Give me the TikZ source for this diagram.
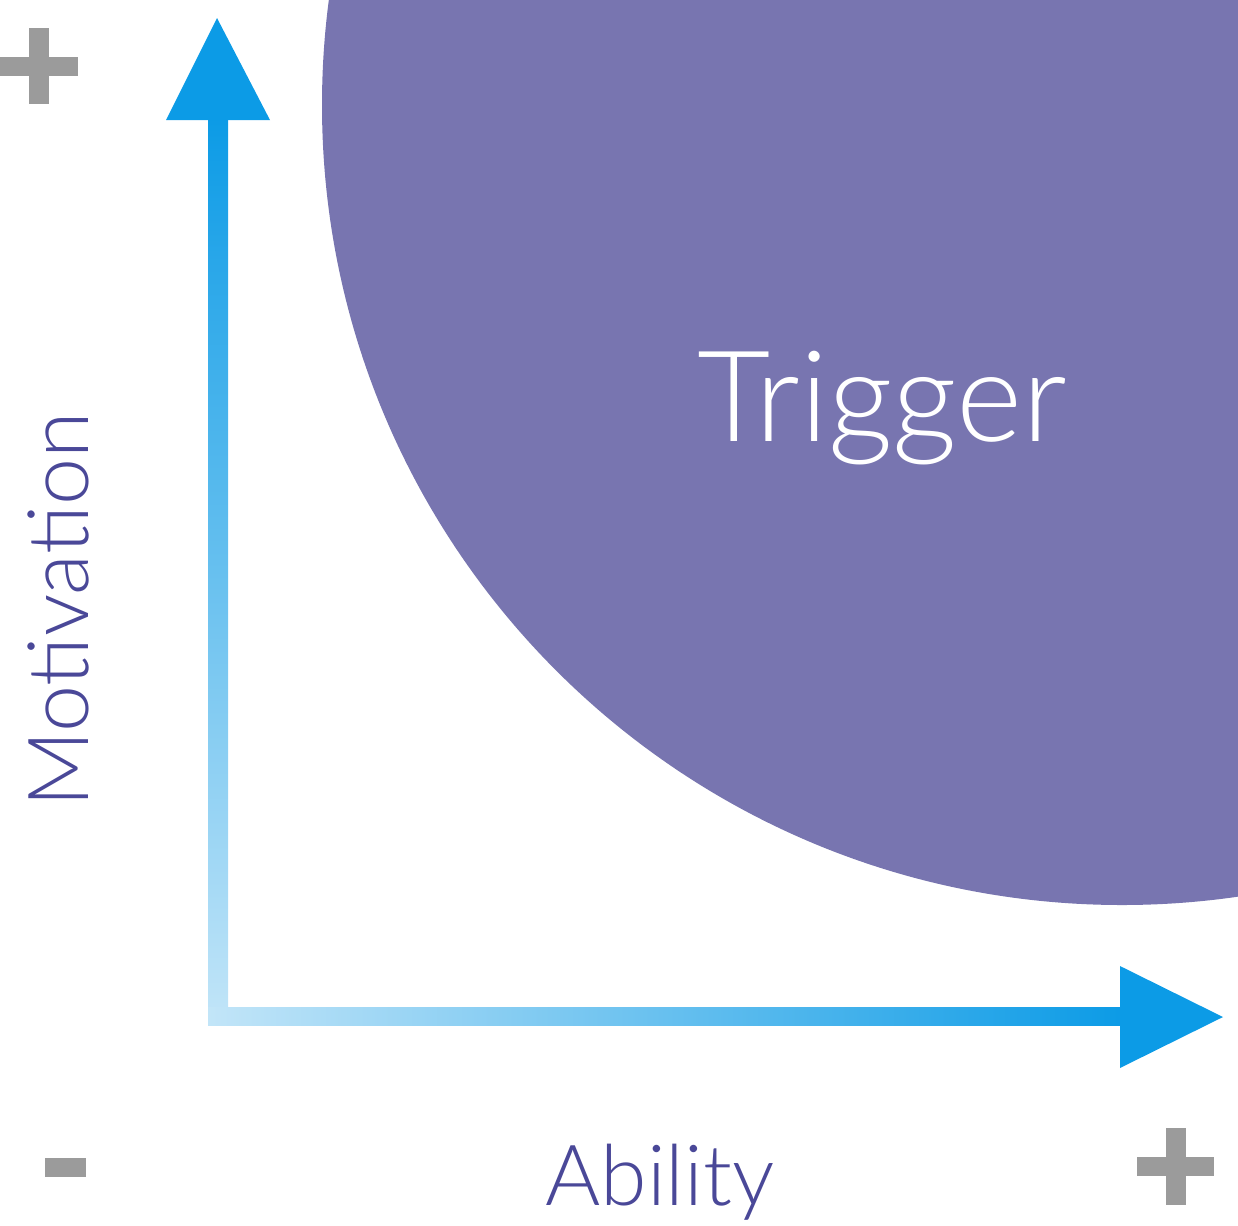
\documentclass[tikz,border=0pt]{standalone}
\usepackage{fontspec}
\setmainfont{Lato Light}
\definecolor{trigpurple}{HTML}{7875B0}
\definecolor{labelblue}{HTML}{4A4898}
\definecolor{axisdark}{HTML}{0C9BE6}
\definecolor{axislight}{HTML}{C2E5F8}
\definecolor{signgray}{HTML}{9B9B9B}
\begin{document}
\begin{tikzpicture}[x=0.01cm,y=-0.01cm,
    axislabel/.style={text=labelblue,font=\fontsize{24}{28}\selectfont,inner sep=0pt},
    sign/.style={fill=signgray}]
    \useasboundingbox (0,0) rectangle (1238,1226);

    % Trigger region
    \begin{scope}
        \clip (0,0) rectangle (1238,1226);
        \fill[trigpurple] (1122,105) circle (800);
    \end{scope}
    \node[text=white,font=\fontsize{36}{40}\selectfont,inner sep=0pt] (trigger) at (882,408) {Trigger};

    % Motivation axis
    \shade[bottom color=axislight,top color=axisdark] (208,1025) rectangle (228,118);
    \fill[axisdark] (166,120) -- (217,18) -- (270,120) -- cycle;

    % Ability axis
    \shade[left color=axislight,right color=axisdark] (208,1007) rectangle (1122,1025);
    \fill[axisdark] (1120,966) -- (1223,1017) -- (1120,1068) -- cycle;

    % Labels
    \node[axislabel,rotate=90] (motivation) at (58,610) {Motivation};
    \node[axislabel] (ability) at (660,1182) {Ability};

    % Signs
    \fill[sign] (0,57) rectangle (78,76);
    \fill[sign] (29,28) rectangle (49,104);
    \fill[sign] (45,1158) rectangle (86,1177);
    \fill[sign] (1137,1157) rectangle (1214,1176);
    \fill[sign] (1166,1128) rectangle (1186,1205);
\end{tikzpicture}
\end{document}
